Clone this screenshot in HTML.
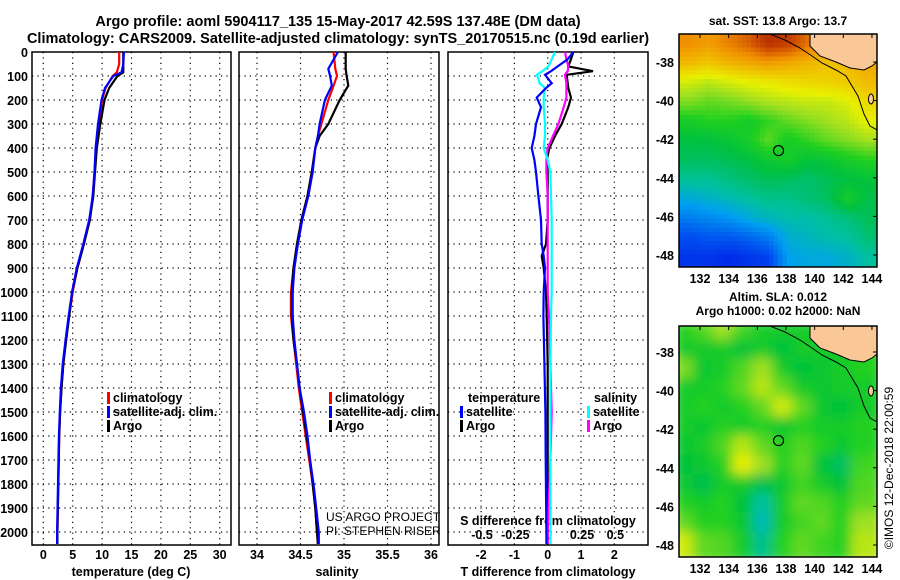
<!DOCTYPE html>
<html><head><meta charset="utf-8">
<style>
html,body{margin:0;padding:0;background:#fff;}
svg{display:block;font-family:"Liberation Sans",sans-serif;}
text{font-weight:bold;fill:#000;}
</style></head>
<body>
<svg id="chart" width="900" height="580" viewBox="0 0 900 580" xmlns="http://www.w3.org/2000/svg">
<text x="338" y="26" font-size="14.5" text-anchor="middle">Argo profile: aoml 5904117_135 15-May-2017 42.59S 137.48E (DM data)</text>
<text x="338" y="43" font-size="14.5" text-anchor="middle">Climatology: CARS2009. Satellite-adjusted climatology: synTS_20170515.nc (0.19d earlier)</text>
<text x="778" y="25" font-size="12" text-anchor="middle">sat. SST: 13.8 Argo: 13.7</text>
<text x="778" y="301" font-size="12" text-anchor="middle">Altim. SLA: 0.012</text>
<text x="778" y="315" font-size="12" text-anchor="middle">Argo h1000: 0.02 h2000: NaN</text>
<text transform="translate(893,468) rotate(-90)" font-size="12" text-anchor="middle" style="font-weight:normal">©IMOS 12-Dec-2018 22:00:59</text>
<g id="g"></g>
</svg>
<script>
// ---------- data ----------
const depthTicks = [0,100,200,300,400,500,600,700,800,900,1000,1100,1200,1300,1400,1500,1600,1700,1800,1900,2000];
const tempTicks = [0,5,10,15,20,25,30];
const salTicks = [34,34.5,35,35.5,36];
const salTickLabels = ["34","34.5","35","35.5","36"];
const tdiffTicks = [-2,-1,0,1,2];
const sdiffTicks = [-0.5,-0.25,0,0.25,0.5];
const sdiffTickLabels = ["-0.5","-0.25","0","0.25","0.5"];

const tDepth = [0,50,85,100,150,200,300,400,500,600,700,800,900,1000,1100,1200,1300,1400,1500,1600,1800,2000,2050];
const tArgo  = [13.6,13.6,13.6,12.6,11.2,10.4,9.7,9.1,8.8,8.5,7.9,6.9,5.8,4.9,4.4,3.9,3.4,3.1,2.85,2.7,2.55,2.4,2.4];
const tClim  = [12.9,12.9,12.5,11.8,10.6,10.0,9.4,9.0,8.7,8.4,7.9,6.9,5.8,5.0,4.4,3.8,3.4,3.1,2.85,2.7,2.55,2.4,2.4];
const tSat   = [13.7,13.6,13.3,11.9,10.5,9.9,9.3,8.9,8.7,8.4,7.8,6.8,5.7,4.9,4.3,3.8,3.3,3.0,2.8,2.65,2.5,2.35,2.35];

const sDepth = [0,70,100,140,200,300,350,400,500,600,700,800,900,1000,1100,1200,1300,1400,1500,1600,1700,1800,1900,2000,2050];
const sArgo  = [35.02,35.02,35.03,35.05,34.95,34.82,34.72,34.67,34.63,34.58,34.51,34.46,34.42,34.40,34.40,34.42,34.46,34.49,34.53,34.57,34.61,34.64,34.67,34.69,34.70];
const sClim  = [34.88,34.9,34.92,34.88,34.82,34.74,34.70,34.67,34.63,34.58,34.51,34.46,34.42,34.39,34.39,34.42,34.45,34.48,34.52,34.56,34.60,34.64,34.67,34.69,34.70];
const sSat   = [34.93,34.82,34.84,34.86,34.78,34.72,34.70,34.67,34.64,34.59,34.52,34.47,34.43,34.41,34.41,34.43,34.46,34.49,34.54,34.58,34.61,34.65,34.68,34.71,34.71];

const dDepth = [0,30,60,80,95,130,150,190,230,300,350,400,450,500,600,700,800,850,900,1000,1100,1300,1500,1700,2000,2050];
const dTArgo = [0.77,0.7,0.62,1.36,0.57,0.6,0.62,0.7,0.62,0.42,0.22,0.05,-0.03,0.0,0.0,0.0,-0.05,-0.18,-0.12,-0.05,-0.03,0.0,0.0,0.0,0.0,0.0];
const dTSat  = [0.77,0.6,0.3,0.1,-0.08,0.12,-0.05,-0.33,-0.2,-0.35,-0.4,-0.48,-0.4,-0.35,-0.28,-0.2,-0.18,-0.12,-0.08,-0.12,-0.13,-0.1,-0.07,-0.06,-0.04,-0.04];
const dSSat  = [0.055,0.03,0.005,-0.04,-0.08,-0.06,-0.02,-0.03,-0.03,-0.02,-0.02,-0.03,0.0,0.02,0.025,0.03,0.03,0.03,0.03,0.03,0.025,0.02,0.02,0.02,0.02,0.02];
const dSArgo = [0.13,0.14,0.155,0.15,0.13,0.14,0.14,0.14,0.12,0.08,0.04,0.0,-0.01,-0.01,0.0,0.0,0.0,0.0,0.0,0.0,0.01,0.02,0.03,0.02,0.0,0.0];

const mapLonTicks = [132,134,136,138,140,142,144];
const mapLatTicks = [-38,-40,-42,-44,-46,-48];
const argoLon = 137.48, argoLat = -42.59;
// SST map grid (normalized colour index 0..1), rows north->south
const sstGrid = [
 [.82,.8,.84,.88,.95,.93,.86,.8,.78,.78],
 [.75,.73,.76,.78,.8,.78,.76,.74,.75,.78],
 [.64,.62,.64,.66,.67,.69,.7,.71,.72,.75],
 [.58,.56,.57,.59,.61,.62,.63,.63,.65,.7],
 [.5,.52,.52,.5,.53,.56,.58,.6,.62,.66],
 [.45,.45,.47,.5,.56,.5,.53,.56,.58,.6],
 [.42,.42,.43,.45,.48,.5,.46,.47,.5,.52],
 [.37,.37,.39,.41,.43,.42,.41,.43,.45,.46],
 [.3,.32,.34,.36,.38,.38,.4,.42,.5,.44],
 [.22,.24,.26,.3,.33,.35,.35,.37,.39,.43],
 [.14,.16,.16,.18,.22,.31,.33,.35,.36,.4],
 [.1,.1,.08,.1,.12,.28,.3,.3,.32,.36]];
// SLA map grid
const slaGrid = [
 [.52,.55,.6,.54,.5,.5,.5,.52,.54,.55],
 [.5,.5,.5,.46,.5,.46,.5,.5,.5,.52],
 [.58,.48,.5,.55,.6,.5,.46,.48,.5,.52],
 [.5,.5,.52,.56,.62,.56,.5,.48,.5,.5],
 [.5,.52,.5,.52,.56,.64,.56,.48,.46,.5],
 [.5,.48,.52,.5,.52,.48,.52,.5,.5,.52],
 [.48,.5,.55,.62,.56,.52,.55,.52,.48,.52],
 [.46,.48,.52,.66,.6,.52,.56,.46,.42,.54],
 [.48,.44,.5,.5,.44,.48,.54,.5,.46,.55],
 [.52,.5,.52,.46,.36,.5,.56,.55,.52,.56],
 [.56,.52,.52,.48,.34,.5,.54,.56,.52,.6],
 [.64,.56,.55,.5,.38,.52,.56,.54,.52,.62]];

// ---------- helpers ----------
const NS = "http://www.w3.org/2000/svg";
const G = document.getElementById('g');
function mk(tag, attrs, parent){ const e=document.createElementNS(NS,tag); for(const k in attrs) e.setAttribute(k,attrs[k]); (parent||G).appendChild(e); return e; }
const yTop=52, yBot=545;
function yD(d){ return 52 + d*0.24; }
function xT(v){ return 43.3 + v*5.88; }
function xS(v){ return 257 + (v-34)*87; }
function xDT(v){ return 547.7 + v*33.3; }
function xDS(v){ return 547.7 + v*133.3; }
function mx(lon){ return 700 + (lon-132)*14.33; }
function my1(lat){ return 62 + (-38-lat)*19.3; }
function my2(lat){ return 352 + (-38-lat)*19.3; }

function panel(x0,x1,name){
  const r=mk('rect',{x:x0,y:yTop,width:x1-x0,height:yBot-yTop,fill:'none',stroke:'#000','stroke-width':1.5});
  
  
  depthTicks.forEach(d=>{ if(d===0) return;
    const l=mk('line',{x1:x0,x2:x1,y1:yD(d),y2:yD(d),stroke:'#000','stroke-dasharray':'1.2,4.2','stroke-width':1.2});
    
    
  });
}
function vgrid(vals,fx,name){
  vals.forEach(v=>{
    const l=mk('line',{x1:fx(v),x2:fx(v),y1:yTop,y2:yBot,stroke:'#000','stroke-dasharray':'1.2,4.2','stroke-width':1.2});
    
    
  });
}
function line(depths,vals,fx,color,name,w){
  const pts=depths.map((d,i)=>fx(vals[i]).toFixed(1)+','+yD(d).toFixed(1)).join(' ');
  const p=mk('polyline',{points:pts,fill:'none',stroke:color,'stroke-width':w||2.2,'stroke-linejoin':'miter'});
  
  
}
function txt(x,y,s,size,anchor,name,fill){
  const t=mk('text',{x:x,y:y,'font-size':size,'text-anchor':anchor||'start'});
  if(fill) t.setAttribute('style','fill:'+fill);
  t.textContent=s;
  
  
  return t;
}
function legendEntry(x,y,color,label,name){
  const r=mk('rect',{x:x,y:y-10,width:3,height:12,fill:color});
  
  
  txt(x+6,y,label,12.5,'start',name);
}

// ---------- panels ----------
panel(32,231,'temperature-panel');
vgrid(tempTicks,xT,'temperature');
panel(239,439,'salinity-panel');
vgrid(salTicks,xS,'salinity');
panel(448,648,'difference-panel');
vgrid(tdiffTicks,xDT,'difference');

depthTicks.forEach(d=>txt(28,yD(d)+5,String(d),12.5,'end','depth-tick-label'));
tempTicks.forEach(v=>txt(xT(v),559,String(v),12.5,'middle','temperature-tick-label'));
salTicks.forEach((v,i)=>txt(xS(v),559,salTickLabels[i],12.5,'middle','salinity-tick-label'));
tdiffTicks.forEach(v=>txt(xDT(v),559,String(v),12.5,'middle','tdiff-tick-label'));
sdiffTicks.forEach((v,i)=>txt(xDS(v)+1,539,sdiffTickLabels[i],12.5,'middle','sdiff-tick-label'));
txt(131,576,'temperature (deg C)',12.5,'middle','temperature-axis-title');
txt(337,576,'salinity',12.5,'middle','salinity-axis-title');
txt(548,576,'T difference from climatology',12.5,'middle','tdiff-axis-title');
txt(548,525,'S difference from climatology',12.5,'middle','sdiff-axis-title');

// series
line(tDepth,tClim,xT,'#ff0000','temperature-climatology-line');
line(tDepth,tArgo,xT,'#000000','temperature-argo-line');
line(tDepth,tSat,xT,'#0000ff','temperature-satellite-line');
line(sDepth,sClim,xS,'#ff0000','salinity-climatology-line');
line(sDepth,sArgo,xS,'#000000','salinity-argo-line');
line(sDepth,sSat,xS,'#0000ff','salinity-satellite-line');
line(dDepth,dTArgo,xDT,'#000000','tdiff-argo-line');
line(dDepth,dSArgo,xDS,'#ff00ff','sdiff-argo-line');
line(dDepth,dSSat,xDS,'#00ffff','sdiff-satellite-line');
line(dDepth,dTSat,xDT,'#0000ff','tdiff-satellite-line');

// legends
legendEntry(107,402,'#ff0000','climatology','temp-legend-climatology');
legendEntry(107,416,'#0000ff','satellite-adj. clim.','temp-legend-satellite');
legendEntry(107,430,'#000000','Argo','temp-legend-argo');
legendEntry(329,402,'#ff0000','climatology','sal-legend-climatology');
legendEntry(329,416,'#0000ff','satellite-adj. clim.','sal-legend-satellite');
legendEntry(329,430,'#000000','Argo','sal-legend-argo');
txt(468,402,'temperature',12.5,'start','diff-legend-temperature-heading');
legendEntry(460,416,'#0000ff','satellite','diff-legend-t-satellite');
legendEntry(460,430,'#000000','Argo','diff-legend-t-argo');
txt(594,402,'salinity',12.5,'start','diff-legend-salinity-heading');
legendEntry(587,416,'#00ffff','satellite','diff-legend-s-satellite');
legendEntry(587,430,'#ff00ff','Argo','diff-legend-s-argo');
txt(326,521,'US ARGO PROJECT',12,'start','project-credit').setAttribute('style','font-weight:normal');
txt(326,535,'PI: STEPHEN RISER',12,'start','pi-credit').setAttribute('style','font-weight:normal');

// ---------- maps ----------
const stops=[[0,[0,0,224]],[.15,[0,80,240]],[.28,[0,160,240]],[.36,[0,192,160]],[.45,[0,192,64]],[.52,[32,208,32]],[.6,[160,224,32]],[.66,[232,240,0]],[.74,[240,192,0]],[.82,[240,144,0]],[.9,[208,80,0]],[1,[160,16,0]]];
function cmap(v){
  for(let i=1;i<stops.length;i++){ if(v<=stops[i][0]){ const a=stops[i-1],b=stops[i],t=(v-a[0])/(b[0]-a[0]);
    return 'rgb('+a[1].map((c,k)=>Math.round(c+(b[1][k]-c)*t)).join(',')+')'; } }
  return 'rgb(160,16,0)';
}
const defs=mk('defs',{});
const flt=mk('filter',{id:'blur',x:'-5%',y:'-5%',width:'110%',height:'110%'},defs);
mk('feGaussianBlur',{stdDeviation:6},flt);
['clip1','clip2'].forEach((id,i)=>{ const c=mk('clipPath',{id:id},defs); mk('rect',{x:679,y:i?326:34,width:198,height:i?231:233},c); });

function sample(grid,fr,fc){
  const R=grid.length-1,C=grid[0].length-1;
  fr=Math.max(0,Math.min(R,fr)); fc=Math.max(0,Math.min(C,fc));
  const r0=Math.floor(fr),c0=Math.floor(fc),r1=Math.min(R,r0+1),c1=Math.min(C,c0+1),tr=fr-r0,tc=fc-c0;
  return (grid[r0][c0]*(1-tc)+grid[r0][c1]*tc)*(1-tr)+(grid[r1][c0]*(1-tc)+grid[r1][c1]*tc)*tr;
}
function drawMap(grid,y0,h,fy,name,blur,clip){
  const g=mk('g',{'clip-path':'url(#'+clip+')'});
  
  
  const inner=mk('g',blur?{filter:'url(#blur)'}:{},g);
  const rows=grid.length, cols=grid[0].length;
  if(blur){
    const cw=198/cols, ch=h/rows;
    grid.forEach((row,r)=>row.forEach((v,c)=>{
      const e=mk('rect',{x:(679+c*cw-6).toFixed(1),y:(y0+r*ch-6).toFixed(1),width:(cw+12).toFixed(1),height:(ch+12).toFixed(1),fill:cmap(v)},inner);
      
      
    }));
  } else {
    const n=4.5, NC=Math.ceil(198/n), NR=Math.ceil(h/n);
    for(let i=0;i<NR;i++) for(let j=0;j<NC;j++){
      const v=sample(grid,(i+0.5)*n/h*rows-0.5,(j+0.5)*n/198*cols-0.5);
      const e=mk('rect',{x:(679+j*n).toFixed(1),y:(y0+i*n).toFixed(1),width:n+0.3,height:n+0.3,fill:cmap(v)},inner);
      
      
    }
  }
  const o=y0-34;
  const land=mk('path',{d:`M810,${34+o} L810,${46+o} L820,${56+o} L836,${62+o} L850,${68+o} L864,${70+o} L872,${66+o} L877,${62+o} L877,${34+o} Z`,fill:'#f9c896',stroke:'#000','stroke-width':1},g);
  
  
  const isl=mk('ellipse',{cx:871,cy:99+o,rx:2.5,ry:5,fill:'#f9c896',stroke:'#000','stroke-width':1},g);
  
  
  const coast=mk('polyline',{points:`770,${34+o} 785,${40+o} 800,${48+o} 812,${56+o} 822,${63+o} 836,${70+o} 846,${76+o} 852,${86+o} 858,${96+o} 864,${114+o} 870,${126+o} 877,${130+o}`,fill:'none',stroke:'#000','stroke-width':1},g);
  
  
  const fr=mk('rect',{x:679,y:y0,width:198,height:h,fill:'none',stroke:'#000','stroke-width':1.5});
  
  
  const cir=mk('circle',{cx:mx(argoLon),cy:fy(argoLat),r:5,fill:'none',stroke:'#000','stroke-width':1.2});
  
  
  mapLatTicks.forEach(lat=>{ txt(674,fy(lat)+5,String(lat),12.5,'end',name+'-lat-label');
    mk('line',{x1:873,x2:877,y1:fy(lat),y2:fy(lat),stroke:'#000'}); });
  mapLonTicks.forEach(lon=>{ txt(mx(lon),y0+h+16,String(lon),12.5,'middle',name+'-lon-label');
    mk('line',{x1:mx(lon),x2:mx(lon),y1:y0,y2:y0+4,stroke:'#000'}); });
}
drawMap(sstGrid,34,233,my1,'sst-map',false,'clip1');
drawMap(slaGrid,326,231,my2,'sla-map',true,'clip2');
</script>
</body></html>
